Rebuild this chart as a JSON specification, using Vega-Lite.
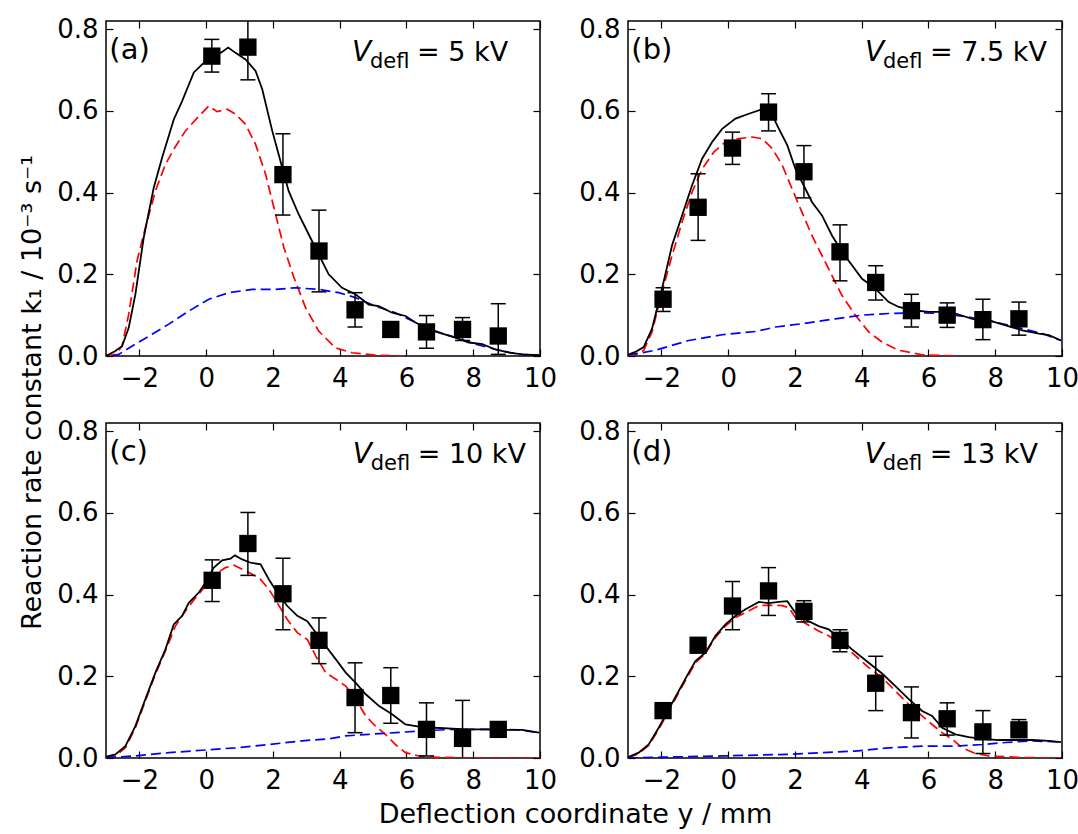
{
  "$schema": "https://vega.github.io/schema/vega-lite/v6.json",
  "padding": {"left": 17, "top": 15, "right": 5, "bottom": 5},
  "background": "white",
  "config": {
    "font": "DejaVu Sans",
    "view": {"stroke": "black", "strokeWidth": 1.5},
    "axis": {"grid": false, "domain": false, "ticks": true, "tickSize": -7, "tickColor": "black", "tickWidth": 1.2, "labelFontSize": 26, "labelColor": "black", "labelFlush": false, "labelOverlap": false, "labelBound": false, "titleFontSize": 27, "titleFontWeight": "normal", "titleColor": "black"},
    "axisX": {"labelPadding": 16},
    "axisY": {"labelPadding": 15},
    "line": {"strokeWidth": 1.7}
  },
  "datasets": {
    "a_pts": [
      {"x": 0.17, "k": 0.734, "lo": 0.695, "hi": 0.775},
      {"x": 1.25, "k": 0.756, "lo": 0.676, "hi": 0.836},
      {"x": 2.30, "k": 0.444, "lo": 0.345, "hi": 0.544},
      {"x": 3.38, "k": 0.257, "lo": 0.157, "hi": 0.357},
      {"x": 4.46, "k": 0.113, "lo": 0.071, "hi": 0.155},
      {"x": 5.53, "k": 0.065, "lo": 0.058, "hi": 0.072},
      {"x": 6.60, "k": 0.059, "lo": 0.019, "hi": 0.099},
      {"x": 7.68, "k": 0.065, "lo": 0.038, "hi": 0.094},
      {"x": 8.75, "k": 0.049, "lo": 0.004, "hi": 0.128}
    ],
    "a_total": [
      {"x": -3, "k": 0}, {"x": -2.72, "k": 0.012}, {"x": -2.52, "k": 0.024}, {"x": -2.32, "k": 0.069}, {"x": -2.12, "k": 0.151}, {"x": -1.87, "k": 0.29}, {"x": -1.57, "k": 0.412}, {"x": -1.32, "k": 0.485}, {"x": -0.97, "k": 0.579}, {"x": -0.72, "k": 0.624}, {"x": -0.37, "k": 0.694}, {"x": -0.12, "k": 0.714}, {"x": 0.18, "k": 0.734}, {"x": 0.43, "k": 0.742}, {"x": 0.66, "k": 0.755}, {"x": 0.88, "k": 0.742}, {"x": 1.18, "k": 0.726}, {"x": 1.48, "k": 0.698}, {"x": 1.68, "k": 0.653}, {"x": 1.98, "k": 0.551}, {"x": 2.28, "k": 0.461}, {"x": 2.47, "k": 0.404}, {"x": 2.77, "k": 0.347}, {"x": 3.07, "k": 0.298}, {"x": 3.37, "k": 0.249}, {"x": 3.67, "k": 0.2}, {"x": 4.07, "k": 0.167}, {"x": 4.47, "k": 0.151}, {"x": 4.87, "k": 0.126}, {"x": 5.17, "k": 0.122}, {"x": 5.57, "k": 0.106}, {"x": 5.97, "k": 0.098}, {"x": 6.27, "k": 0.082}, {"x": 6.67, "k": 0.065}, {"x": 6.97, "k": 0.057}, {"x": 7.47, "k": 0.045}, {"x": 7.87, "k": 0.033}, {"x": 8.27, "k": 0.029}, {"x": 8.67, "k": 0.016}, {"x": 9.07, "k": 0.008}, {"x": 9.47, "k": 0.004}, {"x": 9.97, "k": 0.002}
    ],
    "a_fast": [
      {"x": -3, "k": 0}, {"x": -2.72, "k": 0.004}, {"x": -2.52, "k": 0.024}, {"x": -2.32, "k": 0.102}, {"x": -2.07, "k": 0.233}, {"x": -1.82, "k": 0.314}, {"x": -1.52, "k": 0.404}, {"x": -1.22, "k": 0.469}, {"x": -0.97, "k": 0.506}, {"x": -0.62, "k": 0.551}, {"x": -0.22, "k": 0.587}, {"x": 0.08, "k": 0.612}, {"x": 0.33, "k": 0.598}, {"x": 0.63, "k": 0.604}, {"x": 0.88, "k": 0.592}, {"x": 1.18, "k": 0.567}, {"x": 1.48, "k": 0.518}, {"x": 1.78, "k": 0.445}, {"x": 2.03, "k": 0.363}, {"x": 2.33, "k": 0.265}, {"x": 2.63, "k": 0.192}, {"x": 2.98, "k": 0.118}, {"x": 3.37, "k": 0.061}, {"x": 3.87, "k": 0.020}, {"x": 4.37, "k": 0.008}, {"x": 5.07, "k": 0.002}, {"x": 5.87, "k": 0}
    ],
    "a_slow": [
      {"x": -2.8, "k": 0}, {"x": -2.62, "k": 0.004}, {"x": -2.12, "k": 0.029}, {"x": -1.62, "k": 0.053}, {"x": -1.12, "k": 0.078}, {"x": -0.52, "k": 0.11}, {"x": 0.08, "k": 0.139}, {"x": 0.68, "k": 0.155}, {"x": 1.38, "k": 0.163}, {"x": 2.08, "k": 0.163}, {"x": 2.67, "k": 0.167}, {"x": 3.37, "k": 0.163}, {"x": 3.97, "k": 0.155}, {"x": 4.47, "k": 0.143}, {"x": 5.07, "k": 0.122}, {"x": 5.67, "k": 0.106}, {"x": 6.27, "k": 0.082}, {"x": 6.87, "k": 0.061}, {"x": 7.47, "k": 0.045}, {"x": 8.07, "k": 0.029}, {"x": 8.67, "k": 0.016}, {"x": 9.37, "k": 0.004}, {"x": 9.97, "k": 0.002}
    ],
    "b_pts": [
      {"x": -1.95, "k": 0.139, "lo": 0.109, "hi": 0.167},
      {"x": -0.90, "k": 0.364, "lo": 0.283, "hi": 0.446},
      {"x": 0.13, "k": 0.509, "lo": 0.469, "hi": 0.548},
      {"x": 1.21, "k": 0.597, "lo": 0.551, "hi": 0.642},
      {"x": 2.27, "k": 0.451, "lo": 0.387, "hi": 0.515},
      {"x": 3.35, "k": 0.255, "lo": 0.184, "hi": 0.321},
      {"x": 4.42, "k": 0.180, "lo": 0.137, "hi": 0.221},
      {"x": 5.49, "k": 0.111, "lo": 0.071, "hi": 0.151},
      {"x": 6.56, "k": 0.100, "lo": 0.070, "hi": 0.130},
      {"x": 7.63, "k": 0.089, "lo": 0.040, "hi": 0.139},
      {"x": 8.71, "k": 0.091, "lo": 0.051, "hi": 0.132}
    ],
    "b_total": [
      {"x": -3, "k": 0.003}, {"x": -2.78, "k": 0.01}, {"x": -2.53, "k": 0.022}, {"x": -2.28, "k": 0.067}, {"x": -1.98, "k": 0.165}, {"x": -1.68, "k": 0.271}, {"x": -1.38, "k": 0.344}, {"x": -1.08, "k": 0.418}, {"x": -0.78, "k": 0.483}, {"x": -0.48, "k": 0.524}, {"x": -0.18, "k": 0.556}, {"x": 0.22, "k": 0.581}, {"x": 0.62, "k": 0.593}, {"x": 1.02, "k": 0.604}, {"x": 1.27, "k": 0.598}, {"x": 1.52, "k": 0.556}, {"x": 1.77, "k": 0.516}, {"x": 2.01, "k": 0.459}, {"x": 2.26, "k": 0.418}, {"x": 2.51, "k": 0.377}, {"x": 2.81, "k": 0.344}, {"x": 3.11, "k": 0.295}, {"x": 3.41, "k": 0.255}, {"x": 3.71, "k": 0.222}, {"x": 4.01, "k": 0.189}, {"x": 4.41, "k": 0.165}, {"x": 4.81, "k": 0.132}, {"x": 5.11, "k": 0.12}, {"x": 5.51, "k": 0.112}, {"x": 6.01, "k": 0.108}, {"x": 6.41, "k": 0.108}, {"x": 6.81, "k": 0.104}, {"x": 7.31, "k": 0.091}, {"x": 7.81, "k": 0.087}, {"x": 8.31, "k": 0.075}, {"x": 8.81, "k": 0.063}, {"x": 9.31, "k": 0.055}, {"x": 9.61, "k": 0.051}, {"x": 9.97, "k": 0.038}
    ],
    "b_fast": [
      {"x": -3, "k": 0}, {"x": -2.78, "k": 0.003}, {"x": -2.53, "k": 0.014}, {"x": -2.28, "k": 0.059}, {"x": -1.98, "k": 0.157}, {"x": -1.68, "k": 0.246}, {"x": -1.38, "k": 0.328}, {"x": -1.08, "k": 0.401}, {"x": -0.78, "k": 0.458}, {"x": -0.43, "k": 0.499}, {"x": -0.08, "k": 0.524}, {"x": 0.32, "k": 0.532}, {"x": 0.72, "k": 0.536}, {"x": 1.02, "k": 0.532}, {"x": 1.32, "k": 0.508}, {"x": 1.62, "k": 0.467}, {"x": 1.91, "k": 0.41}, {"x": 2.21, "k": 0.352}, {"x": 2.51, "k": 0.295}, {"x": 2.81, "k": 0.246}, {"x": 3.11, "k": 0.197}, {"x": 3.41, "k": 0.148}, {"x": 3.81, "k": 0.1}, {"x": 4.21, "k": 0.059}, {"x": 4.61, "k": 0.034}, {"x": 5.11, "k": 0.014}, {"x": 5.81, "k": 0.003}, {"x": 6.81, "k": 0}
    ],
    "b_slow": [
      {"x": -3, "k": 0.002}, {"x": -2.18, "k": 0.014}, {"x": -1.18, "k": 0.038}, {"x": -0.18, "k": 0.052}, {"x": 0.82, "k": 0.06}, {"x": 1.42, "k": 0.071}, {"x": 2.21, "k": 0.079}, {"x": 3.21, "k": 0.091}, {"x": 4.01, "k": 0.1}, {"x": 4.81, "k": 0.104}, {"x": 5.61, "k": 0.106}, {"x": 6.41, "k": 0.104}, {"x": 7.21, "k": 0.095}, {"x": 8.01, "k": 0.083}, {"x": 8.81, "k": 0.067}, {"x": 9.41, "k": 0.055}, {"x": 9.97, "k": 0.038}
    ],
    "c_pts": [
      {"x": 0.18, "k": 0.435, "lo": 0.383, "hi": 0.485},
      {"x": 1.25, "k": 0.525, "lo": 0.447, "hi": 0.601},
      {"x": 2.30, "k": 0.402, "lo": 0.314, "hi": 0.489},
      {"x": 3.38, "k": 0.288, "lo": 0.231, "hi": 0.343},
      {"x": 4.46, "k": 0.148, "lo": 0.062, "hi": 0.233},
      {"x": 5.53, "k": 0.153, "lo": 0.085, "hi": 0.221},
      {"x": 6.60, "k": 0.070, "lo": 0.005, "hi": 0.135},
      {"x": 7.68, "k": 0.048, "lo": -0.045, "hi": 0.141},
      {"x": 8.75, "k": 0.070, "lo": 0.063, "hi": 0.077}
    ],
    "c_total": [
      {"x": -3, "k": 0.003}, {"x": -2.72, "k": 0.009}, {"x": -2.42, "k": 0.029}, {"x": -2.12, "k": 0.078}, {"x": -1.82, "k": 0.144}, {"x": -1.52, "k": 0.209}, {"x": -1.22, "k": 0.266}, {"x": -0.97, "k": 0.327}, {"x": -0.72, "k": 0.348}, {"x": -0.52, "k": 0.38}, {"x": -0.22, "k": 0.405}, {"x": -0.02, "k": 0.429}, {"x": 0.23, "k": 0.466}, {"x": 0.48, "k": 0.484}, {"x": 0.73, "k": 0.488}, {"x": 0.86, "k": 0.496}, {"x": 1.08, "k": 0.486}, {"x": 1.33, "k": 0.478}, {"x": 1.63, "k": 0.474}, {"x": 1.88, "k": 0.437}, {"x": 2.13, "k": 0.405}, {"x": 2.43, "k": 0.372}, {"x": 2.73, "k": 0.348}, {"x": 3.03, "k": 0.335}, {"x": 3.28, "k": 0.307}, {"x": 3.58, "k": 0.274}, {"x": 3.88, "k": 0.242}, {"x": 4.18, "k": 0.209}, {"x": 4.48, "k": 0.184}, {"x": 4.78, "k": 0.156}, {"x": 5.18, "k": 0.127}, {"x": 5.57, "k": 0.107}, {"x": 5.97, "k": 0.082}, {"x": 6.37, "k": 0.077}, {"x": 6.87, "k": 0.074}, {"x": 7.37, "k": 0.072}, {"x": 7.87, "k": 0.07}, {"x": 8.37, "k": 0.07}, {"x": 8.87, "k": 0.069}, {"x": 9.47, "k": 0.069}, {"x": 9.97, "k": 0.062}
    ],
    "c_fast": [
      {"x": -3, "k": 0}, {"x": -2.72, "k": 0.005}, {"x": -2.42, "k": 0.025}, {"x": -2.12, "k": 0.074}, {"x": -1.82, "k": 0.14}, {"x": -1.52, "k": 0.205}, {"x": -1.22, "k": 0.262}, {"x": -0.92, "k": 0.323}, {"x": -0.62, "k": 0.36}, {"x": -0.32, "k": 0.392}, {"x": -0.02, "k": 0.421}, {"x": 0.28, "k": 0.45}, {"x": 0.58, "k": 0.466}, {"x": 0.83, "k": 0.472}, {"x": 1.08, "k": 0.462}, {"x": 1.38, "k": 0.45}, {"x": 1.63, "k": 0.437}, {"x": 1.88, "k": 0.413}, {"x": 2.13, "k": 0.38}, {"x": 2.43, "k": 0.339}, {"x": 2.73, "k": 0.307}, {"x": 3.03, "k": 0.29}, {"x": 3.28, "k": 0.25}, {"x": 3.58, "k": 0.209}, {"x": 3.88, "k": 0.193}, {"x": 4.18, "k": 0.176}, {"x": 4.48, "k": 0.144}, {"x": 4.78, "k": 0.103}, {"x": 5.07, "k": 0.078}, {"x": 5.37, "k": 0.058}, {"x": 5.67, "k": 0.033}, {"x": 5.97, "k": 0.013}, {"x": 6.37, "k": 0.005}, {"x": 6.87, "k": 0.002}, {"x": 7.87, "k": 0}, {"x": 10, "k": 0}
    ],
    "c_slow": [
      {"x": -3, "k": 0.001}, {"x": -2.12, "k": 0.005}, {"x": -1.12, "k": 0.013}, {"x": -0.12, "k": 0.019}, {"x": 0.88, "k": 0.025}, {"x": 1.88, "k": 0.033}, {"x": 2.87, "k": 0.042}, {"x": 3.67, "k": 0.047}, {"x": 4.17, "k": 0.054}, {"x": 4.87, "k": 0.058}, {"x": 5.67, "k": 0.062}, {"x": 6.37, "k": 0.066}, {"x": 7.37, "k": 0.07}, {"x": 8.37, "k": 0.07}, {"x": 9.37, "k": 0.069}, {"x": 9.97, "k": 0.062}
    ],
    "d_pts": [
      {"x": -1.95, "k": 0.116, "lo": 0.109, "hi": 0.123},
      {"x": -0.90, "k": 0.276, "lo": 0.269, "hi": 0.283},
      {"x": 0.13, "k": 0.372, "lo": 0.314, "hi": 0.432},
      {"x": 1.21, "k": 0.409, "lo": 0.349, "hi": 0.466},
      {"x": 2.27, "k": 0.359, "lo": 0.333, "hi": 0.385},
      {"x": 3.35, "k": 0.288, "lo": 0.260, "hi": 0.314},
      {"x": 4.42, "k": 0.183, "lo": 0.116, "hi": 0.249},
      {"x": 5.49, "k": 0.111, "lo": 0.049, "hi": 0.174},
      {"x": 6.56, "k": 0.096, "lo": 0.056, "hi": 0.135},
      {"x": 7.63, "k": 0.064, "lo": 0.011, "hi": 0.116},
      {"x": 8.71, "k": 0.069, "lo": 0.054, "hi": 0.094}
    ],
    "d_total": [
      {"x": -3, "k": 0.002}, {"x": -2.68, "k": 0.013}, {"x": -2.38, "k": 0.033}, {"x": -2.08, "k": 0.074}, {"x": -1.78, "k": 0.119}, {"x": -1.48, "k": 0.164}, {"x": -1.18, "k": 0.209}, {"x": -0.98, "k": 0.237}, {"x": -0.68, "k": 0.258}, {"x": -0.38, "k": 0.299}, {"x": -0.08, "k": 0.327}, {"x": 0.22, "k": 0.348}, {"x": 0.52, "k": 0.364}, {"x": 0.92, "k": 0.382}, {"x": 1.22, "k": 0.379}, {"x": 1.52, "k": 0.382}, {"x": 1.77, "k": 0.384}, {"x": 2.01, "k": 0.356}, {"x": 2.31, "k": 0.339}, {"x": 2.71, "k": 0.323}, {"x": 3.01, "k": 0.315}, {"x": 3.31, "k": 0.295}, {"x": 3.71, "k": 0.266}, {"x": 4.21, "k": 0.233}, {"x": 4.61, "k": 0.207}, {"x": 5.01, "k": 0.176}, {"x": 5.41, "k": 0.144}, {"x": 5.81, "k": 0.115}, {"x": 6.11, "k": 0.103}, {"x": 6.41, "k": 0.074}, {"x": 6.81, "k": 0.058}, {"x": 7.21, "k": 0.051}, {"x": 7.61, "k": 0.047}, {"x": 8.11, "k": 0.044}, {"x": 8.61, "k": 0.044}, {"x": 9.11, "k": 0.044}, {"x": 9.61, "k": 0.042}, {"x": 9.97, "k": 0.039}
    ],
    "d_fast": [
      {"x": -3, "k": 0}, {"x": -2.68, "k": 0.011}, {"x": -2.38, "k": 0.031}, {"x": -2.08, "k": 0.07}, {"x": -1.78, "k": 0.115}, {"x": -1.48, "k": 0.16}, {"x": -1.18, "k": 0.204}, {"x": -0.98, "k": 0.233}, {"x": -0.68, "k": 0.256}, {"x": -0.38, "k": 0.295}, {"x": -0.08, "k": 0.323}, {"x": 0.22, "k": 0.344}, {"x": 0.52, "k": 0.356}, {"x": 0.92, "k": 0.373}, {"x": 1.22, "k": 0.374}, {"x": 1.62, "k": 0.373}, {"x": 1.82, "k": 0.368}, {"x": 2.01, "k": 0.344}, {"x": 2.31, "k": 0.33}, {"x": 2.71, "k": 0.311}, {"x": 3.01, "k": 0.299}, {"x": 3.31, "k": 0.282}, {"x": 3.71, "k": 0.258}, {"x": 4.21, "k": 0.221}, {"x": 4.61, "k": 0.197}, {"x": 5.01, "k": 0.164}, {"x": 5.41, "k": 0.131}, {"x": 5.81, "k": 0.103}, {"x": 6.11, "k": 0.082}, {"x": 6.41, "k": 0.062}, {"x": 6.71, "k": 0.046}, {"x": 7.01, "k": 0.025}, {"x": 7.41, "k": 0.011}, {"x": 7.81, "k": 0.005}, {"x": 8.81, "k": 0.001}, {"x": 9.97, "k": 0}
    ],
    "d_slow": [
      {"x": -3, "k": 0}, {"x": -1.98, "k": 0.002}, {"x": -0.18, "k": 0.005}, {"x": 1.82, "k": 0.009}, {"x": 3.81, "k": 0.017}, {"x": 4.81, "k": 0.025}, {"x": 5.81, "k": 0.029}, {"x": 6.81, "k": 0.029}, {"x": 7.61, "k": 0.033}, {"x": 8.31, "k": 0.038}, {"x": 9.11, "k": 0.042}, {"x": 9.97, "k": 0.039}
    ],
    "one": [{}]
  },
  "concat": [
    {
      "width": 434, "height": 335,
      "resolve": {"axis": {"x": "independent", "y": "independent"}},
      "layer": [
        {"data": {"name": "a_fast"}, "mark": {"type": "line", "color": "#ff0000", "strokeDash": [10, 5], "clip": true},
         "encoding": {
           "x": {"field": "x", "type": "quantitative", "scale": {"domain": [-3, 10], "nice": false, "zero": false}, "axis": {"values": [-2, 0, 2, 4, 6, 8, 10], "title": null}},
           "y": {"field": "k", "type": "quantitative", "scale": {"domain": [0, 0.82], "nice": false, "zero": false}, "axis": {"values": [0, 0.2, 0.4, 0.6, 0.8], "format": ".1f", "title": "Reaction rate constant k₁ / 10⁻³ s⁻¹", "titleY": 371, "titlePadding": 10}}}},
        {"data": {"name": "a_slow"}, "mark": {"type": "line", "color": "#0000ff", "strokeDash": [10, 5], "clip": true},
         "encoding": {
           "x": {"field": "x", "type": "quantitative", "scale": {"domain": [-3, 10], "nice": false, "zero": false}, "axis": {"orient": "top", "values": [-2, 0, 2, 4, 6, 8, 10], "labels": false, "title": null}},
           "y": {"field": "k", "type": "quantitative", "scale": {"domain": [0, 0.82], "nice": false, "zero": false}, "axis": {"orient": "right", "values": [0, 0.2, 0.4, 0.6, 0.8], "labels": false, "title": null}}}},
        {"data": {"name": "a_total"}, "mark": {"type": "line", "color": "black", "strokeWidth": 1.8, "clip": true},
         "encoding": {"x": {"field": "x", "type": "quantitative", "axis": null}, "y": {"field": "k", "type": "quantitative", "axis": null}}},
        {"data": {"name": "a_pts"}, "mark": {"type": "rule", "color": "black", "strokeWidth": 1.5, "clip": true},
         "encoding": {"x": {"field": "x", "type": "quantitative", "axis": null}, "y": {"field": "lo", "type": "quantitative", "axis": null}, "y2": {"field": "hi"}}},
        {"data": {"name": "a_pts"}, "transform": [{"fold": ["lo", "hi"], "as": ["end", "v"]}], "mark": {"type": "tick", "orient": "horizontal", "color": "black", "size": 15, "thickness": 1.5, "opacity": 1, "clip": true},
         "encoding": {"x": {"field": "x", "type": "quantitative", "axis": null}, "y": {"field": "v", "type": "quantitative", "axis": null}}},
        {"data": {"name": "a_pts"}, "mark": {"type": "point", "shape": "square", "filled": true, "color": "black", "opacity": 1, "size": 300, "clip": true},
         "encoding": {"x": {"field": "x", "type": "quantitative", "axis": null}, "y": {"field": "k", "type": "quantitative", "axis": null}}},
        {"data": {"name": "one"}, "mark": {"type": "text", "text": "(a)", "fontSize": 29, "align": "left", "baseline": "alphabetic", "color": "black"},
         "encoding": {"x": {"datum": -2.9, "type": "quantitative", "axis": null}, "y": {"datum": 0.727, "type": "quantitative", "axis": null}}},
        {"data": {"name": "one"}, "mark": {"type": "text", "text": "V", "fontSize": 28, "fontStyle": "italic", "align": "left", "baseline": "alphabetic", "color": "black"},
         "encoding": {"x": {"datum": 4.37, "type": "quantitative", "axis": null}, "y": {"datum": 0.722, "type": "quantitative", "axis": null}}},
        {"data": {"name": "one"}, "mark": {"type": "text", "text": "defl", "fontSize": 21, "align": "left", "baseline": "alphabetic", "dx": 18, "dy": 7, "color": "black"},
         "encoding": {"x": {"datum": 4.37, "type": "quantitative", "axis": null}, "y": {"datum": 0.722, "type": "quantitative", "axis": null}}},
        {"data": {"name": "one"}, "mark": {"type": "text", "text": "= 5 kV", "fontSize": 27, "align": "left", "baseline": "alphabetic", "dx": 65, "color": "black"},
         "encoding": {"x": {"datum": 4.37, "type": "quantitative", "axis": null}, "y": {"datum": 0.722, "type": "quantitative", "axis": null}}}
      ]
    },
    {
      "width": 434, "height": 335,
      "resolve": {"axis": {"x": "independent", "y": "independent"}},
      "layer": [
        {"data": {"name": "b_fast"}, "mark": {"type": "line", "color": "#ff0000", "strokeDash": [10, 5], "clip": true},
         "encoding": {
           "x": {"field": "x", "type": "quantitative", "scale": {"domain": [-3, 10], "nice": false, "zero": false}, "axis": {"values": [-2, 0, 2, 4, 6, 8, 10], "title": null}},
           "y": {"field": "k", "type": "quantitative", "scale": {"domain": [0, 0.82], "nice": false, "zero": false}, "axis": {"values": [0, 0.2, 0.4, 0.6, 0.8], "format": ".1f", "title": null}}}},
        {"data": {"name": "b_slow"}, "mark": {"type": "line", "color": "#0000ff", "strokeDash": [10, 5], "clip": true},
         "encoding": {
           "x": {"field": "x", "type": "quantitative", "scale": {"domain": [-3, 10], "nice": false, "zero": false}, "axis": {"orient": "top", "values": [-2, 0, 2, 4, 6, 8, 10], "labels": false, "title": null}},
           "y": {"field": "k", "type": "quantitative", "scale": {"domain": [0, 0.82], "nice": false, "zero": false}, "axis": {"orient": "right", "values": [0, 0.2, 0.4, 0.6, 0.8], "labels": false, "title": null}}}},
        {"data": {"name": "b_total"}, "mark": {"type": "line", "color": "black", "strokeWidth": 1.8, "clip": true},
         "encoding": {"x": {"field": "x", "type": "quantitative", "axis": null}, "y": {"field": "k", "type": "quantitative", "axis": null}}},
        {"data": {"name": "b_pts"}, "mark": {"type": "rule", "color": "black", "strokeWidth": 1.5, "clip": true},
         "encoding": {"x": {"field": "x", "type": "quantitative", "axis": null}, "y": {"field": "lo", "type": "quantitative", "axis": null}, "y2": {"field": "hi"}}},
        {"data": {"name": "b_pts"}, "transform": [{"fold": ["lo", "hi"], "as": ["end", "v"]}], "mark": {"type": "tick", "orient": "horizontal", "color": "black", "size": 15, "thickness": 1.5, "opacity": 1, "clip": true},
         "encoding": {"x": {"field": "x", "type": "quantitative", "axis": null}, "y": {"field": "v", "type": "quantitative", "axis": null}}},
        {"data": {"name": "b_pts"}, "mark": {"type": "point", "shape": "square", "filled": true, "color": "black", "opacity": 1, "size": 300, "clip": true},
         "encoding": {"x": {"field": "x", "type": "quantitative", "axis": null}, "y": {"field": "k", "type": "quantitative", "axis": null}}},
        {"data": {"name": "one"}, "mark": {"type": "text", "text": "(b)", "fontSize": 29, "align": "left", "baseline": "alphabetic", "color": "black"},
         "encoding": {"x": {"datum": -2.9, "type": "quantitative", "axis": null}, "y": {"datum": 0.727, "type": "quantitative", "axis": null}}},
        {"data": {"name": "one"}, "mark": {"type": "text", "text": "V", "fontSize": 28, "fontStyle": "italic", "align": "left", "baseline": "alphabetic", "color": "black"},
         "encoding": {"x": {"datum": 4.10, "type": "quantitative", "axis": null}, "y": {"datum": 0.722, "type": "quantitative", "axis": null}}},
        {"data": {"name": "one"}, "mark": {"type": "text", "text": "defl", "fontSize": 21, "align": "left", "baseline": "alphabetic", "dx": 18, "dy": 7, "color": "black"},
         "encoding": {"x": {"datum": 4.10, "type": "quantitative", "axis": null}, "y": {"datum": 0.722, "type": "quantitative", "axis": null}}},
        {"data": {"name": "one"}, "mark": {"type": "text", "text": "= 7.5 kV", "fontSize": 27, "align": "left", "baseline": "alphabetic", "dx": 65, "color": "black"},
         "encoding": {"x": {"datum": 4.10, "type": "quantitative", "axis": null}, "y": {"datum": 0.722, "type": "quantitative", "axis": null}}}
      ]
    },
    {
      "width": 434, "height": 335,
      "resolve": {"axis": {"x": "independent", "y": "independent"}},
      "layer": [
        {"data": {"name": "c_fast"}, "mark": {"type": "line", "color": "#ff0000", "strokeDash": [10, 5], "clip": true},
         "encoding": {
           "x": {"field": "x", "type": "quantitative", "scale": {"domain": [-3, 10], "nice": false, "zero": false}, "axis": {"values": [-2, 0, 2, 4, 6, 8, 10], "title": "Deflection coordinate y / mm", "titleX": 469, "titlePadding": 8}},
           "y": {"field": "k", "type": "quantitative", "scale": {"domain": [0, 0.82], "nice": false, "zero": false}, "axis": {"values": [0, 0.2, 0.4, 0.6, 0.8], "format": ".1f", "title": null}}}},
        {"data": {"name": "c_slow"}, "mark": {"type": "line", "color": "#0000ff", "strokeDash": [10, 5], "clip": true},
         "encoding": {
           "x": {"field": "x", "type": "quantitative", "scale": {"domain": [-3, 10], "nice": false, "zero": false}, "axis": {"orient": "top", "values": [-2, 0, 2, 4, 6, 8, 10], "labels": false, "title": null}},
           "y": {"field": "k", "type": "quantitative", "scale": {"domain": [0, 0.82], "nice": false, "zero": false}, "axis": {"orient": "right", "values": [0, 0.2, 0.4, 0.6, 0.8], "labels": false, "title": null}}}},
        {"data": {"name": "c_total"}, "mark": {"type": "line", "color": "black", "strokeWidth": 1.8, "clip": true},
         "encoding": {"x": {"field": "x", "type": "quantitative", "axis": null}, "y": {"field": "k", "type": "quantitative", "axis": null}}},
        {"data": {"name": "c_pts"}, "mark": {"type": "rule", "color": "black", "strokeWidth": 1.5, "clip": true},
         "encoding": {"x": {"field": "x", "type": "quantitative", "axis": null}, "y": {"field": "lo", "type": "quantitative", "axis": null}, "y2": {"field": "hi"}}},
        {"data": {"name": "c_pts"}, "transform": [{"fold": ["lo", "hi"], "as": ["end", "v"]}], "mark": {"type": "tick", "orient": "horizontal", "color": "black", "size": 15, "thickness": 1.5, "opacity": 1, "clip": true},
         "encoding": {"x": {"field": "x", "type": "quantitative", "axis": null}, "y": {"field": "v", "type": "quantitative", "axis": null}}},
        {"data": {"name": "c_pts"}, "mark": {"type": "point", "shape": "square", "filled": true, "color": "black", "opacity": 1, "size": 300, "clip": true},
         "encoding": {"x": {"field": "x", "type": "quantitative", "axis": null}, "y": {"field": "k", "type": "quantitative", "axis": null}}},
        {"data": {"name": "one"}, "mark": {"type": "text", "text": "(c)", "fontSize": 29, "align": "left", "baseline": "alphabetic", "color": "black"},
         "encoding": {"x": {"datum": -2.9, "type": "quantitative", "axis": null}, "y": {"datum": 0.727, "type": "quantitative", "axis": null}}},
        {"data": {"name": "one"}, "mark": {"type": "text", "text": "V", "fontSize": 28, "fontStyle": "italic", "align": "left", "baseline": "alphabetic", "color": "black"},
         "encoding": {"x": {"datum": 4.39, "type": "quantitative", "axis": null}, "y": {"datum": 0.722, "type": "quantitative", "axis": null}}},
        {"data": {"name": "one"}, "mark": {"type": "text", "text": "defl", "fontSize": 21, "align": "left", "baseline": "alphabetic", "dx": 18, "dy": 7, "color": "black"},
         "encoding": {"x": {"datum": 4.39, "type": "quantitative", "axis": null}, "y": {"datum": 0.722, "type": "quantitative", "axis": null}}},
        {"data": {"name": "one"}, "mark": {"type": "text", "text": "= 10 kV", "fontSize": 27, "align": "left", "baseline": "alphabetic", "dx": 65, "color": "black"},
         "encoding": {"x": {"datum": 4.39, "type": "quantitative", "axis": null}, "y": {"datum": 0.722, "type": "quantitative", "axis": null}}}
      ]
    },
    {
      "width": 434, "height": 335,
      "resolve": {"axis": {"x": "independent", "y": "independent"}},
      "layer": [
        {"data": {"name": "d_fast"}, "mark": {"type": "line", "color": "#ff0000", "strokeDash": [10, 5], "clip": true},
         "encoding": {
           "x": {"field": "x", "type": "quantitative", "scale": {"domain": [-3, 10], "nice": false, "zero": false}, "axis": {"values": [-2, 0, 2, 4, 6, 8, 10], "title": null}},
           "y": {"field": "k", "type": "quantitative", "scale": {"domain": [0, 0.82], "nice": false, "zero": false}, "axis": {"values": [0, 0.2, 0.4, 0.6, 0.8], "format": ".1f", "title": null}}}},
        {"data": {"name": "d_slow"}, "mark": {"type": "line", "color": "#0000ff", "strokeDash": [10, 5], "clip": true},
         "encoding": {
           "x": {"field": "x", "type": "quantitative", "scale": {"domain": [-3, 10], "nice": false, "zero": false}, "axis": {"orient": "top", "values": [-2, 0, 2, 4, 6, 8, 10], "labels": false, "title": null}},
           "y": {"field": "k", "type": "quantitative", "scale": {"domain": [0, 0.82], "nice": false, "zero": false}, "axis": {"orient": "right", "values": [0, 0.2, 0.4, 0.6, 0.8], "labels": false, "title": null}}}},
        {"data": {"name": "d_total"}, "mark": {"type": "line", "color": "black", "strokeWidth": 1.8, "clip": true},
         "encoding": {"x": {"field": "x", "type": "quantitative", "axis": null}, "y": {"field": "k", "type": "quantitative", "axis": null}}},
        {"data": {"name": "d_pts"}, "mark": {"type": "rule", "color": "black", "strokeWidth": 1.5, "clip": true},
         "encoding": {"x": {"field": "x", "type": "quantitative", "axis": null}, "y": {"field": "lo", "type": "quantitative", "axis": null}, "y2": {"field": "hi"}}},
        {"data": {"name": "d_pts"}, "transform": [{"fold": ["lo", "hi"], "as": ["end", "v"]}], "mark": {"type": "tick", "orient": "horizontal", "color": "black", "size": 15, "thickness": 1.5, "opacity": 1, "clip": true},
         "encoding": {"x": {"field": "x", "type": "quantitative", "axis": null}, "y": {"field": "v", "type": "quantitative", "axis": null}}},
        {"data": {"name": "d_pts"}, "mark": {"type": "point", "shape": "square", "filled": true, "color": "black", "opacity": 1, "size": 300, "clip": true},
         "encoding": {"x": {"field": "x", "type": "quantitative", "axis": null}, "y": {"field": "k", "type": "quantitative", "axis": null}}},
        {"data": {"name": "one"}, "mark": {"type": "text", "text": "(d)", "fontSize": 29, "align": "left", "baseline": "alphabetic", "color": "black"},
         "encoding": {"x": {"datum": -2.9, "type": "quantitative", "axis": null}, "y": {"datum": 0.727, "type": "quantitative", "axis": null}}},
        {"data": {"name": "one"}, "mark": {"type": "text", "text": "V", "fontSize": 28, "fontStyle": "italic", "align": "left", "baseline": "alphabetic", "color": "black"},
         "encoding": {"x": {"datum": 4.09, "type": "quantitative", "axis": null}, "y": {"datum": 0.722, "type": "quantitative", "axis": null}}},
        {"data": {"name": "one"}, "mark": {"type": "text", "text": "defl", "fontSize": 21, "align": "left", "baseline": "alphabetic", "dx": 18, "dy": 7, "color": "black"},
         "encoding": {"x": {"datum": 4.09, "type": "quantitative", "axis": null}, "y": {"datum": 0.722, "type": "quantitative", "axis": null}}},
        {"data": {"name": "one"}, "mark": {"type": "text", "text": "= 13 kV", "fontSize": 27, "align": "left", "baseline": "alphabetic", "dx": 65, "color": "black"},
         "encoding": {"x": {"datum": 4.09, "type": "quantitative", "axis": null}, "y": {"datum": 0.722, "type": "quantitative", "axis": null}}}
      ]
    }
  ],
  "columns": 2,
  "spacing": {"row": 67, "column": 88},
  "bounds": "flush"
}
